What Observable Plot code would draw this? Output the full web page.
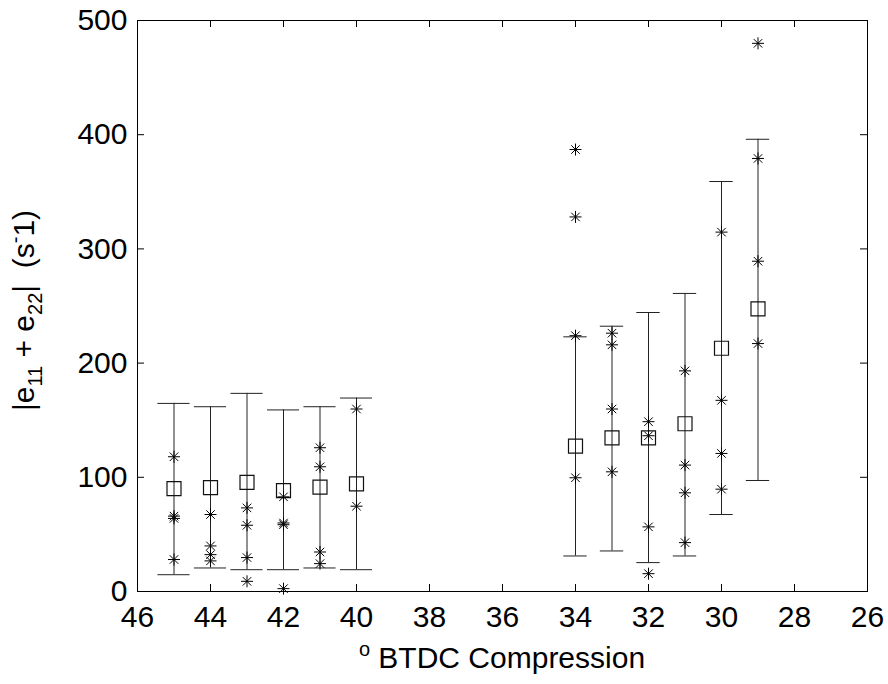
<!DOCTYPE html>
<html><head><meta charset="utf-8">
<script src="https://cdn.jsdelivr.net/npm/d3@7"></script>
<script src="https://cdn.jsdelivr.net/npm/@observablehq/plot@0.6"></script>
<style>body{margin:0;background:#fff} svg{display:block}</style>
</head><body><div id="chart"></div>
<script>
// crank angle (° BTDC compression) of each measurement group
const positions = [45, 44, 43, 42, 41, 40, 34, 33, 32, 31, 30, 29];
// mean values (squares)
const means = [90, 91, 95.5, 88.4, 91.4, 94.3, 127.3, 134.6, 134.6, 146.9, 213, 247.5];
// error bar limits
const lower = [14.7, 20.6, 19.1, 19.1, 20.6, 19.1, 31.1, 35.5, 25.3, 31.1, 67.4, 97.2];
const upper = [164.7, 161.8, 173.5, 159, 161.8, 169.4, 223, 232.3, 244.3, 261, 359, 396];
// individual samples (asterisks)
const samples = [
  [118, 66, 64, 28],
  [67.4, 39.9, 32.3, 26.8],
  [73.2, 58, 29.7, 8.9],
  [82.9, 60, 58.5, 2.5],
  [125.9, 109.2, 34.6, 24.4],
  [159.8, 74.7],
  [387, 328, 224, 99.6],
  [226.2, 216, 159.8, 104.8],
  [148.7, 136.4, 56.6, 15.6],
  [193.2, 110.7, 86.4, 42.8],
  [314.7, 167.4, 120.9, 89.6],
  [480, 379.2, 289.2, 217.1]
];
const xTicks = [46, 44, 42, 40, 38, 36, 34, 32, 30, 28, 26];
const yTicks = [0, 100, 200, 300, 400, 500];

const W = 888, H = 684, mL = 137, mR = 21, mT = 20, mB = 93;
const innerW = W - mL - mR, innerH = H - mT - mB;
const FONT = "'Liberation Sans', Arial, Helvetica, sans-serif";

const groups = positions.map((x, i) => ({x, mean: means[i], lo: lower[i], hi: upper[i], cap: x >= 40 ? 0.44 : 0.32}));
const pts = positions.flatMap((x, i) => samples[i].map(v => ({x, v})));

const asterisk = {
  draw(ctx, size) {
    const r = Math.sqrt(size / Math.PI), d = r * Math.SQRT1_2;
    ctx.moveTo(-r, 0); ctx.lineTo(r, 0);
    ctx.moveTo(0, -r); ctx.lineTo(0, r);
    ctx.moveTo(-d, -d); ctx.lineTo(d, d);
    ctx.moveTo(-d, d); ctx.lineTo(d, -d);
  }
};

const plot = Plot.plot({
  width: W, height: H,
  marginLeft: mL, marginRight: mR, marginTop: mT, marginBottom: mB,
  style: {fontFamily: FONT, fontSize: "30px", color: "black", background: "white"},
  x: {domain: [46, 26]},
  y: {domain: [0, 500]},
  marks: [
    // error bars
    Plot.ruleX(groups, {x: "x", y1: "lo", y2: "hi", stroke: "#222", strokeWidth: 1}),
    Plot.ruleY(groups, {y: "hi", x1: d => d.x + d.cap, x2: d => d.x - d.cap, stroke: "#222", strokeWidth: 1}),
    Plot.ruleY(groups, {y: "lo", x1: d => d.x + d.cap, x2: d => d.x - d.cap, stroke: "#222", strokeWidth: 1}),
    // means
    Plot.dot(groups, {x: "x", y: "mean", symbol: "square", r: 7.9, stroke: "#111", strokeWidth: 1.2, fill: "none"}),
    // samples
    Plot.dot(pts, {x: "x", y: "v", symbol: asterisk, r: 6, stroke: "black", strokeWidth: 1, fill: "none"}),
    // inward ticks
    Plot.ruleX(xTicks, {x: d => d, insetTop: innerH - 7, stroke: "black"}),
    Plot.ruleX(xTicks, {x: d => d, insetBottom: innerH - 7, stroke: "black"}),
    Plot.ruleY(yTicks, {y: d => d, insetRight: innerW - 7, stroke: "black"}),
    Plot.ruleY(yTicks, {y: d => d, insetLeft: innerW - 7, stroke: "black"}),
    Plot.frame({stroke: "black", strokeWidth: 1}),
    Plot.axisX({ticks: xTicks, tickSize: 0, tickPadding: 14, fontSize: 30, label: null}),
    Plot.axisY({ticks: yTicks, tickSize: 0, tickPadding: 10, fontSize: 30, label: null})
  ]
});

document.getElementById("chart").appendChild(plot);

const sx = plot.scale("x"), sy = plot.scale("y");
const svg = d3.select(plot);
const cx = (sx.apply(46) + sx.apply(26)) / 2;
const cy = (sy.apply(0) + sy.apply(500)) / 2;

// x axis title
const xt = svg.append("text")
  .attr("x", cx).attr("y", 668)
  .attr("text-anchor", "middle")
  .attr("font-family", FONT).attr("font-size", 30).attr("fill", "black");
xt.append("tspan").attr("font-size", 20).attr("dy", -12).text("o");
xt.append("tspan").attr("dy", 12).text("\u00a0BTDC Compression");

// y axis title
const yt = svg.append("text")
  .attr("transform", `translate(34,${cy + 5}) rotate(-90)`)
  .attr("text-anchor", "middle")
  .attr("font-family", FONT).attr("font-size", 30).attr("fill", "black");
yt.append("tspan").text("|e");
yt.append("tspan").attr("font-size", 20).attr("dy", 8).text("11");
yt.append("tspan").attr("dy", -8).text("\u00a0+\u00a0e");
yt.append("tspan").attr("font-size", 20).attr("dy", 8).text("22");
yt.append("tspan").attr("dy", -8).text("|\u00a0\u00a0(s");
yt.append("tspan").attr("font-size", 20).attr("dy", -12).text("-");
yt.append("tspan").attr("dy", 12).text("1)");
</script>
</body></html>
